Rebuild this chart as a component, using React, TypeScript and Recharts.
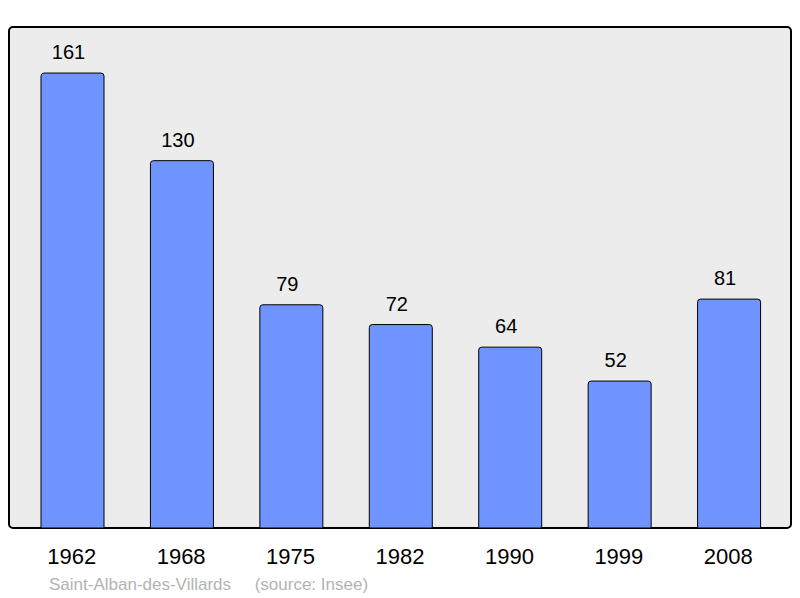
import React from 'react';
import { BarChart, Bar, XAxis, YAxis, LabelList, Customized } from 'recharts';

const years = ['1962', '1968', '1975', '1982', '1990', '1999', '2008'];
const population = [161, 130, 79, 72, 64, 52, 81];
const yMax = 177.3;
const caption = 'Saint-Alban-des-Villards     (source: Insee)';

const data = years.map((y, i) => ({ year: y, pop: population[i] }));

const FONT = '"Liberation Sans", Arial, sans-serif';

const Frame = () => (
  <g>
    <rect x={9} y={27} width={782} height={501} rx={4} ry={4} fill="none" stroke="#000" strokeWidth={2} />
    <text x={49} y={590} fontSize={17} fill="#b3b3b3" fontFamily={FONT} style={{ whiteSpace: 'pre' }}>
      {caption}
    </text>
  </g>
);

const Background = () => (
  <rect x={9} y={27} width={782} height={501} rx={4} ry={4} fill="#ececec" />
);

const YearTick = (props: any) => {
  const { x, payload } = props;
  return (
    <text x={x - 1} y={564} textAnchor="middle" fontSize={22} fill="#000" fontFamily={FONT}>
      {payload.value}
    </text>
  );
};

const ValueLabel = (props: any) => {
  const { x, y, width, value } = props;
  return (
    <text x={x + width / 2 - 4} y={y - 14} textAnchor="middle" fontSize={20} fill="#000" fontFamily={FONT}>
      {value}
    </text>
  );
};

export default function App() {
  return (
    <div style={{ position: 'absolute', left: 0, top: 0, width: 800, height: 598, background: '#fff' }}>
      <BarChart
        width={800}
        height={598}
        data={data}
        margin={{ top: 27, right: 9, bottom: 40, left: 9 }}
        barCategoryGap={0}
      >
        <Customized component={Background} />
        <XAxis
          dataKey="year"
          axisLine={false}
          tickLine={false}
          height={30}
          padding={{ left: 9, right: 7 }}
          tick={<YearTick />}
          interval={0}
        />
        <YAxis hide domain={[0, yMax]} />
        <Bar
          dataKey="pop"
          fill="#7094ff"
          stroke="#000"
          strokeWidth={1}
          barSize={63}
          radius={[3, 3, 0, 0]}
          isAnimationActive={false}
        >
          <LabelList dataKey="pop" content={<ValueLabel />} />
        </Bar>
        <Customized component={Frame} />
      </BarChart>
    </div>
  );
}
